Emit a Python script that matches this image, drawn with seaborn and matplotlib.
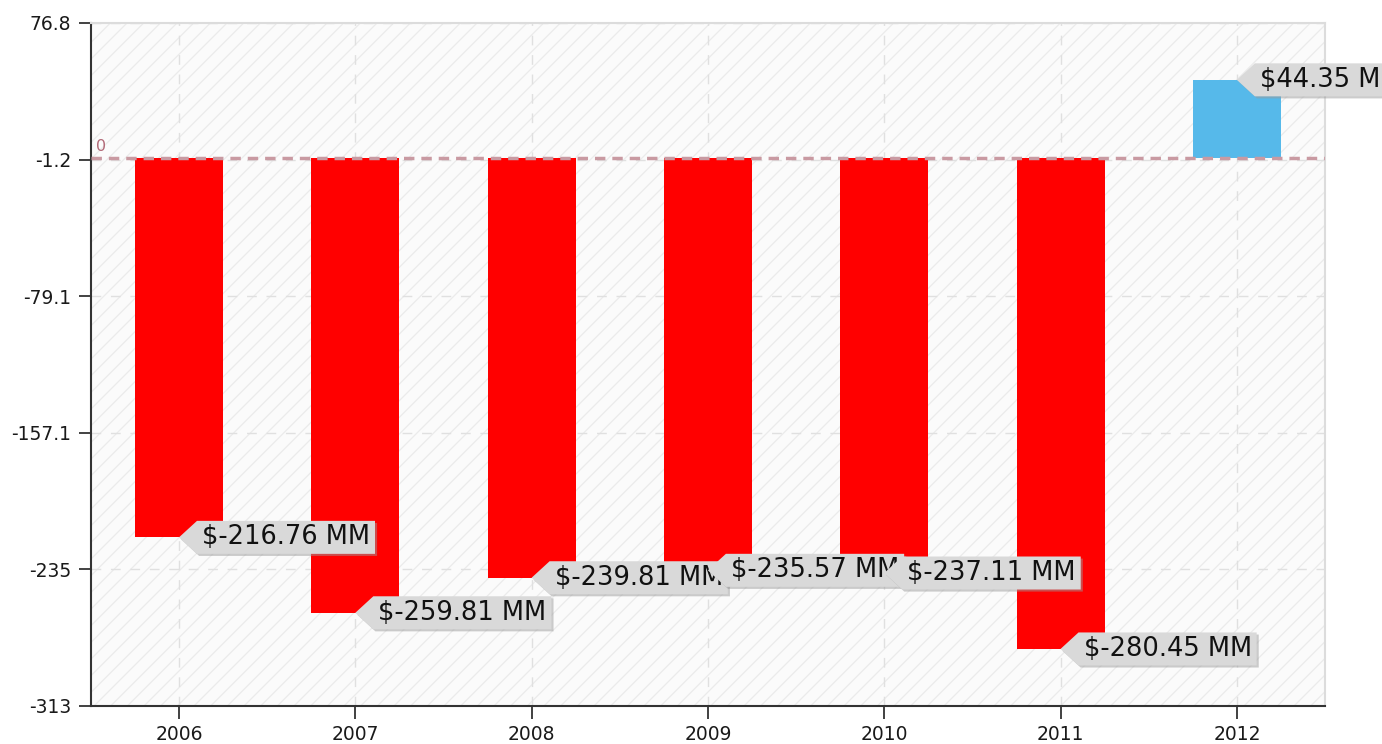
import numpy as np
import pandas as pd
import seaborn as sns
import matplotlib.pyplot as plt
from matplotlib.path import Path
import matplotlib.patheffects as pe

# Annual values in $ millions
years = ["2006", "2007", "2008", "2009", "2010", "2011", "2012"]
net_income = [-216.76, -259.81, -239.81, -235.57, -237.11, -280.45, 44.35]

y_ticks = [76.8, -1.2, -79.1, -157.1, -235.0, -313.0]
y_tick_labels = ["76.8", "-1.2", "-79.1", "-157.1", "-235", "-313"]

NEG_COLOR = "#ff0000"
POS_COLOR = "#56b9ea"

sns.set_theme(style="white")
plt.rcParams["font.family"] = ["DejaVu Sans"]
plt.rcParams["hatch.color"] = "#ebebeb"
plt.rcParams["hatch.linewidth"] = 0.9

fig = plt.figure(figsize=(13.82, 7.44), dpi=100)
ax = fig.add_axes([0.0658, 0.0511, 0.8930, 0.918])

# faint diagonal hatching behind the plot
ax.patch.set_facecolor("#fbfbfb")
ax.patch.set_hatch("//")
ax.patch.set_edgecolor("#ebebeb")
ax.patch.set_linewidth(0)

df = pd.DataFrame({"year": years, "value": net_income})
palette = {y: (NEG_COLOR if v < 0 else POS_COLOR) for y, v in zip(years, net_income)}
sns.barplot(data=df, x="year", y="value", hue="year", palette=palette,
            width=0.5, saturation=1, legend=False, ax=ax, zorder=2,
            edgecolor="none", linewidth=0)

ax.set_xlim(-0.5, len(years) - 0.5)
ax.set_ylim(-313, 76.8)
ax.set_yticks(y_ticks)
ax.set_yticklabels(y_tick_labels)
ax.set_xlabel("")
ax.set_ylabel("")

ax.set_axisbelow(True)
ax.grid(True, linestyle=(0, (7, 7)), color="#e0e0e0", linewidth=1)

ax.tick_params(axis="both", which="major", direction="out", length=9, width=1.3,
               color="#333333", labelsize=13.5, labelcolor="#1a1a1a", pad=5,
               left=True, bottom=True)

for side in ("left", "bottom"):
    ax.spines[side].set_color("#333333")
    ax.spines[side].set_linewidth(1.5)
for side in ("top", "right"):
    ax.spines[side].set_color("#dcdcdc")
    ax.spines[side].set_linewidth(1.5)

# zero baseline
ax.axhline(0, color="#c99aa2", linestyle=(0, (3, 2)), linewidth=2.5, zorder=3)
ax.text(0.004, 2, "0", transform=ax.get_yaxis_transform(), color="#b26a78",
        fontsize=11.5, ha="left", va="bottom")


def tag_box(x0, y0, width, height, mutation_size):
    """Rectangle with a left-pointing notch, like a price tag."""
    px = 5.0
    py = 3.5
    notch = 18.0
    x0 -= px
    x1 = x0 + width + 2 * px
    y0 -= py
    y1 = y0 + height + 2 * py
    ym = (y0 + y1) / 2
    verts = [(x0 - notch, ym), (x0, y1), (x1, y1), (x1, y0), (x0, y0),
             (x0 - notch, ym)]
    codes = [Path.MOVETO] + [Path.LINETO] * 4 + [Path.CLOSEPOLY]
    return Path(verts, codes)


for i, v in enumerate(net_income):
    ann = ax.annotate(f"\\${v:.2f} MM", xy=(i, v), xytext=(16.5, 0),
                      textcoords="offset points", ha="left", va="center",
                      fontsize=18.5, color="#111111", zorder=5,
                      annotation_clip=False,
                      bbox=dict(boxstyle=tag_box, fc="#d9d9d9", ec="none"))
    ann.get_bbox_patch().set_path_effects([
        pe.SimplePatchShadow(offset=(1.5, -1.5), shadow_rgbFace="#9a9a9a", alpha=0.5),
        pe.Normal(),
    ])

fig.savefig("out.png", dpi=100)
